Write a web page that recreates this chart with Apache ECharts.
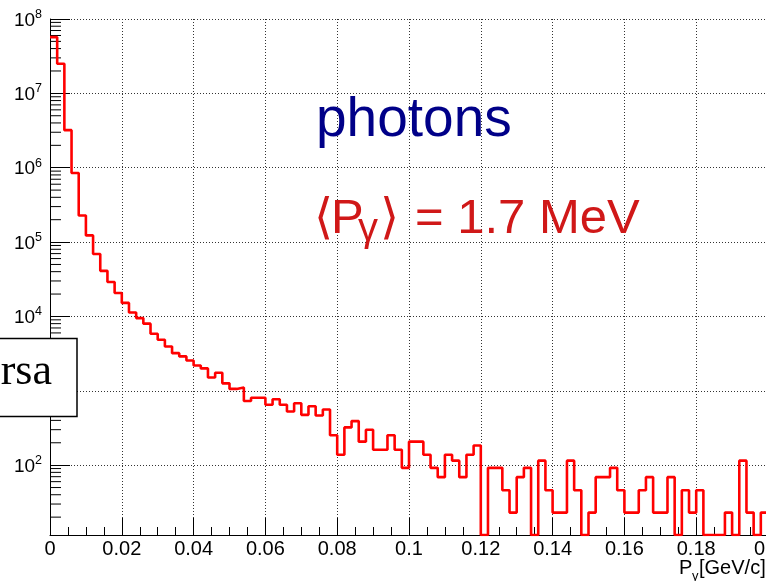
<!DOCTYPE html>
<html><head><meta charset="utf-8">
<script src="https://cdn.jsdelivr.net/npm/echarts@6/dist/echarts.min.js"></script>
<style>html,body{margin:0;padding:0;background:#fff}#c{width:766px;height:581px}</style>
</head><body><div id="c"></div>
<script>
// ---- data ----
const binLowEdges = [
  0.000,0.002,0.004,0.006,0.008,0.010,0.012,0.014,0.016,0.018,
  0.020,0.022,0.024,0.026,0.028,0.030,0.032,0.034,0.036,0.038,
  0.040,0.042,0.044,0.046,0.048,0.050,0.052,0.054,0.056,0.058,
  0.060,0.062,0.064,0.066,0.068,0.070,0.072,0.074,0.076,0.078,
  0.080,0.082,0.084,0.086,0.088,0.090,0.092,0.094,0.096,0.098,
  0.100,0.102,0.104,0.106,0.108,0.110,0.112,0.114,0.116,0.118,
  0.120,0.122,0.124,0.126,0.128,0.130,0.132,0.134,0.136,0.138,
  0.140,0.142,0.144,0.146,0.148,0.150,0.152,0.154,0.156,0.158,
  0.160,0.162,0.164,0.166,0.168,0.170,0.172,0.174,0.176,0.178,
  0.180,0.182,0.184,0.186,0.188,0.190,0.192,0.194,0.196,0.198
];
const lastUpperEdge = 0.2;
const photonCounts = [
  5.7e7, 2.5e7, 3.2e6, 8.5e5, 2.28e5, 1.23e5, 6.9e4, 4.1e4, 2.9e4, 2.07e4,
  1.52e4, 1.13e4, 9.5e3, 8.0e3, 5.86e3, 4.86e3, 3.95e3, 3.21e3, 2.9e3, 2.56e3,
  2190, 2000, 1510, 1750, 1260, 1060, 1110, 728, 805, 805,
  650, 771, 648, 526, 680, 475, 620, 465, 560, 253,
  138, 322, 391, 207, 299, 161, 161, 253, 161, 92,
  207, 207, 138, 92, 69, 138, 115, 69, 138, 184,
  0, 92, 92, 46, 23, 69, 92, 0, 115, 46,
  23, 23, 115, 46, 0, 23, 69, 69, 92, 46,
  23, 23, 46, 69, 23, 23, 69, 0, 46, 23,
  46, 0, 0, 0, 23, 0, 115, 23, 0, 23
];
const xTickValues = [0,0.02,0.04,0.06,0.08,0.1,0.12,0.14,0.16,0.18,0.2];
const yDecades = [1e1,1e2,1e3,1e4,1e5,1e6,1e7];
const yMinorMultipliers = [2,3,4,5,6,7,8,9];

const X_MIN = 0, X_MAX = 0.2, Y_MIN = 11.5, Y_MAX = 1e8;
const FONT = "'Liberation Sans', Arial, Helvetica, sans-serif";

// histogram points (empty bins drawn on the frame bottom, as ROOT does)
const disp = v => (v > 0 ? v : Y_MIN);
const histData = binLowEdges.map((x, i) => [x, disp(photonCounts[i])]);
histData.push([lastUpperEdge, disp(photonCounts[photonCounts.length - 1])]);

const yMinorTicks = [];
yDecades.forEach(d => yMinorMultipliers.forEach(m => {
  const v = d * m; if (v >= Y_MIN && v <= Y_MAX) yMinorTicks.push([X_MIN, v]);
}));

const chart = echarts.init(document.getElementById('c'), null, {renderer: 'canvas'});
chart.setOption({
  animation: false,
  backgroundColor: '#fff',
  grid: {left: 50, right: -2, top: 19, bottom: 46, containLabel: false, outerBoundsMode: 'none'},
  xAxis: {
    type: 'value', min: X_MIN, max: X_MAX, interval: 0.02,
    axisLine: {show: true, onZero: false, lineStyle: {color: '#000', width: 1}},
    axisTick: {show: true, inside: true, length: 17, lineStyle: {color: '#000'}},
    minorTick: {show: true, splitNumber: 4, length: 8, lineStyle: {color: '#000'}},
    splitLine: {show: true, lineStyle: {color: '#333', type: [1, 2], width: 1}},
    axisLabel: {
      fontFamily: FONT, fontSize: 20, color: '#000', margin: 4,
      showMinLabel: true, showMaxLabel: true,
      formatter: v => {
        const t = xTickValues.find(x => Math.abs(x - v) < 1e-9);
        return t === undefined ? '' : String(t);
      }
    }
  },
  yAxis: {
    type: 'log', logBase: 10, min: Y_MIN, max: Y_MAX,
    axisLine: {show: true, lineStyle: {color: '#000', width: 1}},
    axisTick: {show: true, inside: true, length: 20, lineStyle: {color: '#000'}},
    splitLine: {show: true, lineStyle: {color: '#333', type: [1, 2], width: 1}},
    axisLabel: {
      margin: 8, color: '#000',
      formatter: v => {
        const e = Math.round(Math.log10(v));
        if (Math.abs(Math.log10(v) - e) > 1e-6) return '';
        return '{b|10}{e|' + e + '}';
      },
      rich: {
        b: {fontFamily: FONT, fontSize: 19, color: '#000', lineHeight: 22, verticalAlign: 'bottom'},
        e: {fontFamily: FONT, fontSize: 12.5, color: '#000', lineHeight: 13, verticalAlign: 'top'}
      }
    }
  },
  series: [
    {
      type: 'line', step: 'end', data: histData, showSymbol: false, symbol: 'none',
      lineStyle: {color: '#ff0000', width: 2.6}, clip: true, z: 5
    },
    {
      type: 'custom', data: yMinorTicks, silent: true, clip: false, z: 4,
      encode: {x: 0, y: 1},
      renderItem: (params, api) => {
        const p = api.coord([api.value(0), api.value(1)]);
        return {type: 'line', shape: {x1: p[0], y1: p[1], x2: p[0] + 11, y2: p[1]},
                style: {stroke: '#000', lineWidth: 1}};
      }
    }
  ],
  graphic: [
    {type: 'rect', z: 100, shape: {x: -3, y: 338.5, width: 80, height: 78},
     style: {fill: '#fff', stroke: '#000', lineWidth: 1.5}},
    {type: 'text', z: 101, style: {x: 52, y: 394, text: 'rsa', textAlign: 'right', textVerticalAlign: 'bottom',
     font: "44px 'Liberation Serif', 'Times New Roman', serif", fill: '#000'}},
    {type: 'text', z: 101, style: {x: 316, y: 121, text: 'photons', textAlign: 'left', textVerticalAlign: 'middle',
     font: "55px " + FONT, fill: '#000088'}},
    {type: 'text', z: 101, style: {x: 314, y: 220, text: '⟨', textAlign: 'left', textVerticalAlign: 'middle',
     font: "49px 'DejaVu Sans', sans-serif", fill: '#d01818'}},
    {type: 'text', z: 101, style: {x: 331, y: 219.5, text: 'P', textAlign: 'left', textVerticalAlign: 'middle',
     font: "49px " + FONT, fill: '#d01818'}},
    {type: 'text', z: 101, style: {x: 358, y: 230, text: 'γ', textAlign: 'left', textVerticalAlign: 'middle',
     font: "40px " + FONT, fill: '#d01818'}},
    {type: 'text', z: 101, style: {x: 380, y: 220, text: '⟩', textAlign: 'left', textVerticalAlign: 'middle',
     font: "49px 'DejaVu Sans', sans-serif", fill: '#d01818'}},
    {type: 'text', z: 101, style: {x: 415, y: 219.5, text: '= 1.7 MeV', textAlign: 'left', textVerticalAlign: 'middle',
     font: "49px " + FONT, fill: '#d01818'}},
    {type: 'text', z: 101, style: {x: 679, y: 568, text: 'P', textAlign: 'left', textVerticalAlign: 'middle',
     font: "20px " + FONT, fill: '#000'}},
    {type: 'text', z: 101, style: {x: 692, y: 576, text: 'γ', textAlign: 'left', textVerticalAlign: 'middle',
     font: "13px " + FONT, fill: '#000'}},
    {type: 'text', z: 101, style: {x: 699, y: 568, text: '[GeV/c]', textAlign: 'left', textVerticalAlign: 'middle',
     font: "20px " + FONT, fill: '#000'}}
  ]
});
</script>
</body></html>
